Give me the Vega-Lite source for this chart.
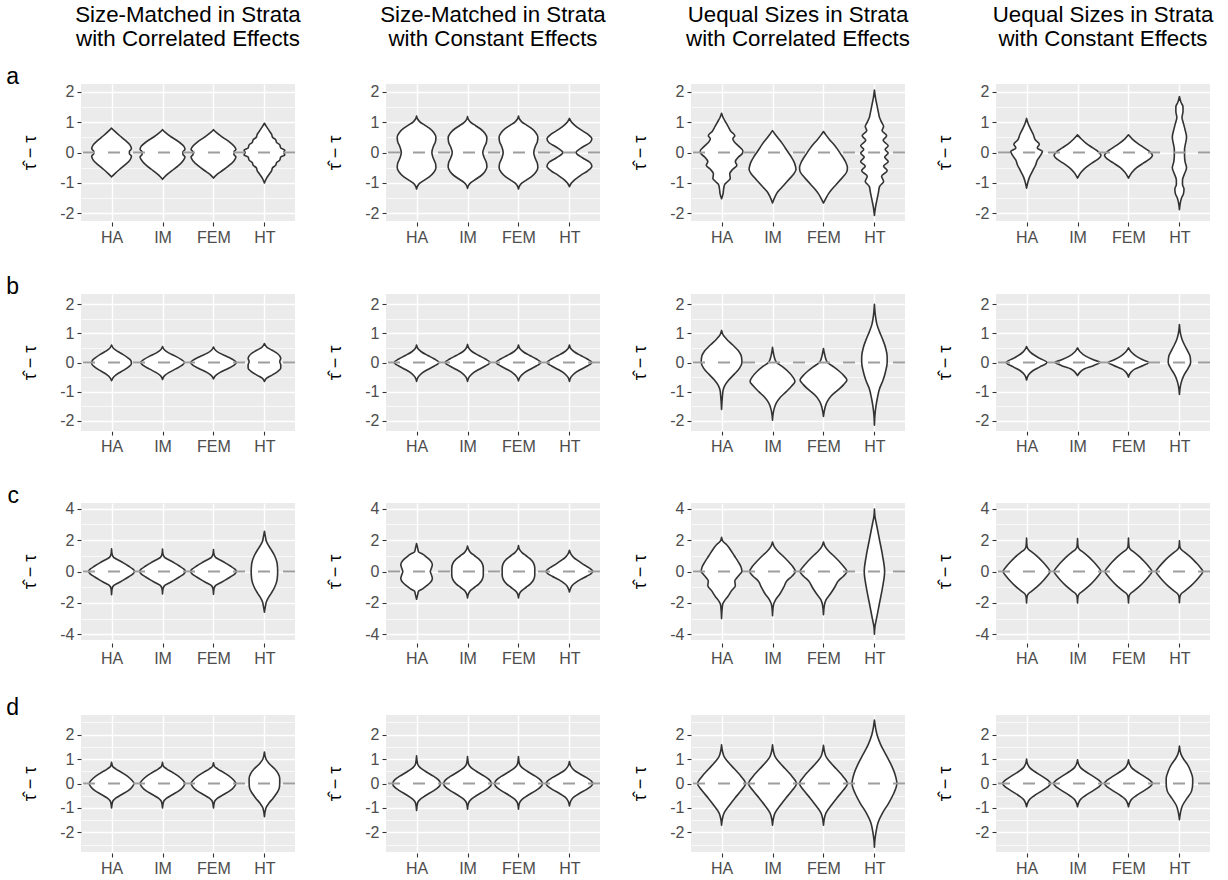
{
"$schema": "https://vega.github.io/schema/vega-lite/v6.json",
"background": "white",
"padding": {"left": 6, "top": 4, "right": 5, "bottom": 5},
"spacing": 31,
"config": {
  "view": {"fill": "#EBEBEB", "stroke": null},
  "font": "Liberation Sans",
  "axis": {"domain": false, "grid": true, "gridColor": "white", "tickColor": "#333333", "tickSize": 4, "tickWidth": 1.1, "labelColor": "#4D4D4D", "labelFontSize": 16, "labelFont": "Liberation Sans", "labelPadding": 3, "labelOverlap": false, "titleFont": "Liberation Sans", "titleFontSize": 18, "titleFontWeight": "normal", "titleColor": "black"},
  "header": {"labelFont": "Liberation Sans", "labelColor": "black"}
},
"datasets": {"v": [
{"r":"a","c":1,"m":"HA","y":0.8,"w":0},{"r":"a","c":1,"m":"HA","y":0.7,"w":0.06},{"r":"a","c":1,"m":"HA","y":0.55,"w":0.16},{"r":"a","c":1,"m":"HA","y":0.4,"w":0.27},{"r":"a","c":1,"m":"HA","y":0.25,"w":0.36},{"r":"a","c":1,"m":"HA","y":0.12,"w":0.39},{"r":"a","c":1,"m":"HA","y":0.04,"w":0.35},{"r":"a","c":1,"m":"HA","y":-0.04,"w":0.35},{"r":"a","c":1,"m":"HA","y":-0.12,"w":0.39},{"r":"a","c":1,"m":"HA","y":-0.25,"w":0.36},{"r":"a","c":1,"m":"HA","y":-0.4,"w":0.27},{"r":"a","c":1,"m":"HA","y":-0.55,"w":0.16},{"r":"a","c":1,"m":"HA","y":-0.7,"w":0.06},{"r":"a","c":1,"m":"HA","y":-0.8,"w":0},
{"r":"a","c":1,"m":"IM","y":0.75,"w":0},{"r":"a","c":1,"m":"IM","y":0.65,"w":0.06},{"r":"a","c":1,"m":"IM","y":0.5,"w":0.18},{"r":"a","c":1,"m":"IM","y":0.35,"w":0.32},{"r":"a","c":1,"m":"IM","y":0.2,"w":0.42},{"r":"a","c":1,"m":"IM","y":0.1,"w":0.44},{"r":"a","c":1,"m":"IM","y":0.02,"w":0.4},{"r":"a","c":1,"m":"IM","y":-0.06,"w":0.4},{"r":"a","c":1,"m":"IM","y":-0.15,"w":0.44},{"r":"a","c":1,"m":"IM","y":-0.28,"w":0.4},{"r":"a","c":1,"m":"IM","y":-0.45,"w":0.3},{"r":"a","c":1,"m":"IM","y":-0.6,"w":0.18},{"r":"a","c":1,"m":"IM","y":-0.75,"w":0.07},{"r":"a","c":1,"m":"IM","y":-0.88,"w":0},
{"r":"a","c":1,"m":"FEM","y":0.75,"w":0},{"r":"a","c":1,"m":"FEM","y":0.65,"w":0.06},{"r":"a","c":1,"m":"FEM","y":0.5,"w":0.18},{"r":"a","c":1,"m":"FEM","y":0.35,"w":0.31},{"r":"a","c":1,"m":"FEM","y":0.2,"w":0.41},{"r":"a","c":1,"m":"FEM","y":0.1,"w":0.44},{"r":"a","c":1,"m":"FEM","y":0.02,"w":0.4},{"r":"a","c":1,"m":"FEM","y":-0.06,"w":0.4},{"r":"a","c":1,"m":"FEM","y":-0.15,"w":0.44},{"r":"a","c":1,"m":"FEM","y":-0.28,"w":0.4},{"r":"a","c":1,"m":"FEM","y":-0.45,"w":0.29},{"r":"a","c":1,"m":"FEM","y":-0.6,"w":0.17},{"r":"a","c":1,"m":"FEM","y":-0.72,"w":0.07},{"r":"a","c":1,"m":"FEM","y":-0.84,"w":0},
{"r":"a","c":1,"m":"HT","y":0.96,"w":0},{"r":"a","c":1,"m":"HT","y":0.85,"w":0.04},{"r":"a","c":1,"m":"HT","y":0.7,"w":0.1},{"r":"a","c":1,"m":"HT","y":0.6,"w":0.14},{"r":"a","c":1,"m":"HT","y":0.5,"w":0.16},{"r":"a","c":1,"m":"HT","y":0.42,"w":0.22},{"r":"a","c":1,"m":"HT","y":0.33,"w":0.24},{"r":"a","c":1,"m":"HT","y":0.25,"w":0.3},{"r":"a","c":1,"m":"HT","y":0.15,"w":0.32},{"r":"a","c":1,"m":"HT","y":0.08,"w":0.4},{"r":"a","c":1,"m":"HT","y":0,"w":0.38},{"r":"a","c":1,"m":"HT","y":-0.08,"w":0.4},{"r":"a","c":1,"m":"HT","y":-0.15,"w":0.32},{"r":"a","c":1,"m":"HT","y":-0.25,"w":0.3},{"r":"a","c":1,"m":"HT","y":-0.33,"w":0.24},{"r":"a","c":1,"m":"HT","y":-0.42,"w":0.22},{"r":"a","c":1,"m":"HT","y":-0.5,"w":0.16},{"r":"a","c":1,"m":"HT","y":-0.6,"w":0.14},{"r":"a","c":1,"m":"HT","y":-0.7,"w":0.1},{"r":"a","c":1,"m":"HT","y":-0.85,"w":0.04},{"r":"a","c":1,"m":"HT","y":-1.0,"w":0},

{"r":"a","c":2,"m":"HA","y":1.2,"w":0},{"r":"a","c":2,"m":"HA","y":1.1,"w":0.02},{"r":"a","c":2,"m":"HA","y":1.0,"w":0.07},{"r":"a","c":2,"m":"HA","y":0.9,"w":0.16},{"r":"a","c":2,"m":"HA","y":0.8,"w":0.25},{"r":"a","c":2,"m":"HA","y":0.65,"w":0.34},{"r":"a","c":2,"m":"HA","y":0.5,"w":0.38},{"r":"a","c":2,"m":"HA","y":0.35,"w":0.37},{"r":"a","c":2,"m":"HA","y":0.2,"w":0.33},{"r":"a","c":2,"m":"HA","y":0,"w":0.3},{"r":"a","c":2,"m":"HA","y":-0.2,"w":0.33},{"r":"a","c":2,"m":"HA","y":-0.35,"w":0.37},{"r":"a","c":2,"m":"HA","y":-0.5,"w":0.38},{"r":"a","c":2,"m":"HA","y":-0.65,"w":0.34},{"r":"a","c":2,"m":"HA","y":-0.8,"w":0.25},{"r":"a","c":2,"m":"HA","y":-0.9,"w":0.16},{"r":"a","c":2,"m":"HA","y":-1.0,"w":0.07},{"r":"a","c":2,"m":"HA","y":-1.1,"w":0.02},{"r":"a","c":2,"m":"HA","y":-1.2,"w":0},
{"r":"a","c":2,"m":"IM","y":1.18,"w":0},{"r":"a","c":2,"m":"IM","y":1.08,"w":0.02},{"r":"a","c":2,"m":"IM","y":0.98,"w":0.07},{"r":"a","c":2,"m":"IM","y":0.88,"w":0.16},{"r":"a","c":2,"m":"IM","y":0.78,"w":0.25},{"r":"a","c":2,"m":"IM","y":0.63,"w":0.34},{"r":"a","c":2,"m":"IM","y":0.48,"w":0.38},{"r":"a","c":2,"m":"IM","y":0.33,"w":0.37},{"r":"a","c":2,"m":"IM","y":0.18,"w":0.33},{"r":"a","c":2,"m":"IM","y":0,"w":0.3},{"r":"a","c":2,"m":"IM","y":-0.18,"w":0.33},{"r":"a","c":2,"m":"IM","y":-0.33,"w":0.37},{"r":"a","c":2,"m":"IM","y":-0.48,"w":0.38},{"r":"a","c":2,"m":"IM","y":-0.63,"w":0.34},{"r":"a","c":2,"m":"IM","y":-0.78,"w":0.25},{"r":"a","c":2,"m":"IM","y":-0.88,"w":0.16},{"r":"a","c":2,"m":"IM","y":-0.98,"w":0.07},{"r":"a","c":2,"m":"IM","y":-1.08,"w":0.02},{"r":"a","c":2,"m":"IM","y":-1.18,"w":0},
{"r":"a","c":2,"m":"FEM","y":1.2,"w":0},{"r":"a","c":2,"m":"FEM","y":1.1,"w":0.02},{"r":"a","c":2,"m":"FEM","y":1.0,"w":0.07},{"r":"a","c":2,"m":"FEM","y":0.9,"w":0.16},{"r":"a","c":2,"m":"FEM","y":0.8,"w":0.25},{"r":"a","c":2,"m":"FEM","y":0.65,"w":0.34},{"r":"a","c":2,"m":"FEM","y":0.5,"w":0.38},{"r":"a","c":2,"m":"FEM","y":0.35,"w":0.37},{"r":"a","c":2,"m":"FEM","y":0.2,"w":0.33},{"r":"a","c":2,"m":"FEM","y":0,"w":0.3},{"r":"a","c":2,"m":"FEM","y":-0.2,"w":0.33},{"r":"a","c":2,"m":"FEM","y":-0.35,"w":0.37},{"r":"a","c":2,"m":"FEM","y":-0.5,"w":0.38},{"r":"a","c":2,"m":"FEM","y":-0.65,"w":0.34},{"r":"a","c":2,"m":"FEM","y":-0.8,"w":0.25},{"r":"a","c":2,"m":"FEM","y":-0.9,"w":0.16},{"r":"a","c":2,"m":"FEM","y":-1.0,"w":0.07},{"r":"a","c":2,"m":"FEM","y":-1.1,"w":0.02},{"r":"a","c":2,"m":"FEM","y":-1.2,"w":0},
{"r":"a","c":2,"m":"HT","y":1.12,"w":0},{"r":"a","c":2,"m":"HT","y":1.0,"w":0.04},{"r":"a","c":2,"m":"HT","y":0.9,"w":0.1},{"r":"a","c":2,"m":"HT","y":0.75,"w":0.22},{"r":"a","c":2,"m":"HT","y":0.6,"w":0.36},{"r":"a","c":2,"m":"HT","y":0.45,"w":0.44},{"r":"a","c":2,"m":"HT","y":0.32,"w":0.4},{"r":"a","c":2,"m":"HT","y":0.18,"w":0.26},{"r":"a","c":2,"m":"HT","y":0,"w":0.13},{"r":"a","c":2,"m":"HT","y":-0.18,"w":0.26},{"r":"a","c":2,"m":"HT","y":-0.32,"w":0.4},{"r":"a","c":2,"m":"HT","y":-0.45,"w":0.44},{"r":"a","c":2,"m":"HT","y":-0.6,"w":0.36},{"r":"a","c":2,"m":"HT","y":-0.75,"w":0.22},{"r":"a","c":2,"m":"HT","y":-0.9,"w":0.1},{"r":"a","c":2,"m":"HT","y":-1.0,"w":0.04},{"r":"a","c":2,"m":"HT","y":-1.12,"w":0},

{"r":"a","c":3,"m":"HA","y":1.29,"w":0},{"r":"a","c":3,"m":"HA","y":1.15,"w":0.03},{"r":"a","c":3,"m":"HA","y":1.0,"w":0.08},{"r":"a","c":3,"m":"HA","y":0.85,"w":0.13},{"r":"a","c":3,"m":"HA","y":0.7,"w":0.18},{"r":"a","c":3,"m":"HA","y":0.55,"w":0.26},{"r":"a","c":3,"m":"HA","y":0.45,"w":0.22},{"r":"a","c":3,"m":"HA","y":0.35,"w":0.25},{"r":"a","c":3,"m":"HA","y":0.2,"w":0.34},{"r":"a","c":3,"m":"HA","y":0.05,"w":0.42},{"r":"a","c":3,"m":"HA","y":-0.05,"w":0.4},{"r":"a","c":3,"m":"HA","y":-0.15,"w":0.33},{"r":"a","c":3,"m":"HA","y":-0.3,"w":0.27},{"r":"a","c":3,"m":"HA","y":-0.42,"w":0.3},{"r":"a","c":3,"m":"HA","y":-0.55,"w":0.22},{"r":"a","c":3,"m":"HA","y":-0.7,"w":0.16},{"r":"a","c":3,"m":"HA","y":-0.85,"w":0.17},{"r":"a","c":3,"m":"HA","y":-0.95,"w":0.12},{"r":"a","c":3,"m":"HA","y":-1.05,"w":0.06},{"r":"a","c":3,"m":"HA","y":-1.2,"w":0.04},{"r":"a","c":3,"m":"HA","y":-1.35,"w":0.03},{"r":"a","c":3,"m":"HA","y":-1.52,"w":0},
{"r":"a","c":3,"m":"IM","y":0.72,"w":0},{"r":"a","c":3,"m":"IM","y":0.6,"w":0.05},{"r":"a","c":3,"m":"IM","y":0.45,"w":0.12},{"r":"a","c":3,"m":"IM","y":0.3,"w":0.19},{"r":"a","c":3,"m":"IM","y":0.15,"w":0.25},{"r":"a","c":3,"m":"IM","y":0,"w":0.31},{"r":"a","c":3,"m":"IM","y":-0.15,"w":0.37},{"r":"a","c":3,"m":"IM","y":-0.3,"w":0.42},{"r":"a","c":3,"m":"IM","y":-0.45,"w":0.45},{"r":"a","c":3,"m":"IM","y":-0.55,"w":0.46},{"r":"a","c":3,"m":"IM","y":-0.7,"w":0.42},{"r":"a","c":3,"m":"IM","y":-0.85,"w":0.34},{"r":"a","c":3,"m":"IM","y":-1.0,"w":0.26},{"r":"a","c":3,"m":"IM","y":-1.15,"w":0.18},{"r":"a","c":3,"m":"IM","y":-1.3,"w":0.1},{"r":"a","c":3,"m":"IM","y":-1.45,"w":0.05},{"r":"a","c":3,"m":"IM","y":-1.66,"w":0},
{"r":"a","c":3,"m":"FEM","y":0.69,"w":0},{"r":"a","c":3,"m":"FEM","y":0.57,"w":0.05},{"r":"a","c":3,"m":"FEM","y":0.42,"w":0.12},{"r":"a","c":3,"m":"FEM","y":0.27,"w":0.2},{"r":"a","c":3,"m":"FEM","y":0.12,"w":0.27},{"r":"a","c":3,"m":"FEM","y":-0.03,"w":0.33},{"r":"a","c":3,"m":"FEM","y":-0.18,"w":0.39},{"r":"a","c":3,"m":"FEM","y":-0.33,"w":0.44},{"r":"a","c":3,"m":"FEM","y":-0.5,"w":0.47},{"r":"a","c":3,"m":"FEM","y":-0.62,"w":0.46},{"r":"a","c":3,"m":"FEM","y":-0.75,"w":0.41},{"r":"a","c":3,"m":"FEM","y":-0.9,"w":0.33},{"r":"a","c":3,"m":"FEM","y":-1.05,"w":0.25},{"r":"a","c":3,"m":"FEM","y":-1.2,"w":0.17},{"r":"a","c":3,"m":"FEM","y":-1.35,"w":0.1},{"r":"a","c":3,"m":"FEM","y":-1.5,"w":0.05},{"r":"a","c":3,"m":"FEM","y":-1.66,"w":0},
{"r":"a","c":3,"m":"HT","y":2.05,"w":0},{"r":"a","c":3,"m":"HT","y":1.8,"w":0.02},{"r":"a","c":3,"m":"HT","y":1.55,"w":0.05},{"r":"a","c":3,"m":"HT","y":1.3,"w":0.08},{"r":"a","c":3,"m":"HT","y":1.15,"w":0.1},{"r":"a","c":3,"m":"HT","y":1.0,"w":0.14},{"r":"a","c":3,"m":"HT","y":0.85,"w":0.18},{"r":"a","c":3,"m":"HT","y":0.72,"w":0.15},{"r":"a","c":3,"m":"HT","y":0.55,"w":0.24},{"r":"a","c":3,"m":"HT","y":0.4,"w":0.17},{"r":"a","c":3,"m":"HT","y":0.22,"w":0.27},{"r":"a","c":3,"m":"HT","y":0.1,"w":0.21},{"r":"a","c":3,"m":"HT","y":-0.02,"w":0.27},{"r":"a","c":3,"m":"HT","y":-0.15,"w":0.2},{"r":"a","c":3,"m":"HT","y":-0.3,"w":0.27},{"r":"a","c":3,"m":"HT","y":-0.45,"w":0.18},{"r":"a","c":3,"m":"HT","y":-0.6,"w":0.25},{"r":"a","c":3,"m":"HT","y":-0.78,"w":0.14},{"r":"a","c":3,"m":"HT","y":-0.95,"w":0.18},{"r":"a","c":3,"m":"HT","y":-1.12,"w":0.1},{"r":"a","c":3,"m":"HT","y":-1.3,"w":0.08},{"r":"a","c":3,"m":"HT","y":-1.55,"w":0.05},{"r":"a","c":3,"m":"HT","y":-1.8,"w":0.02},{"r":"a","c":3,"m":"HT","y":-2.07,"w":0},

{"r":"a","c":4,"m":"HA","y":1.12,"w":0},{"r":"a","c":4,"m":"HA","y":0.95,"w":0.03},{"r":"a","c":4,"m":"HA","y":0.8,"w":0.07},{"r":"a","c":4,"m":"HA","y":0.6,"w":0.13},{"r":"a","c":4,"m":"HA","y":0.42,"w":0.17},{"r":"a","c":4,"m":"HA","y":0.27,"w":0.25},{"r":"a","c":4,"m":"HA","y":0.15,"w":0.21},{"r":"a","c":4,"m":"HA","y":0.03,"w":0.31},{"r":"a","c":4,"m":"HA","y":-0.08,"w":0.28},{"r":"a","c":4,"m":"HA","y":-0.25,"w":0.21},{"r":"a","c":4,"m":"HA","y":-0.4,"w":0.18},{"r":"a","c":4,"m":"HA","y":-0.6,"w":0.12},{"r":"a","c":4,"m":"HA","y":-0.8,"w":0.06},{"r":"a","c":4,"m":"HA","y":-0.95,"w":0.03},{"r":"a","c":4,"m":"HA","y":-1.17,"w":0},
{"r":"a","c":4,"m":"IM","y":0.58,"w":0},{"r":"a","c":4,"m":"IM","y":0.45,"w":0.07},{"r":"a","c":4,"m":"IM","y":0.3,"w":0.17},{"r":"a","c":4,"m":"IM","y":0.15,"w":0.3},{"r":"a","c":4,"m":"IM","y":0.02,"w":0.41},{"r":"a","c":4,"m":"IM","y":-0.1,"w":0.46},{"r":"a","c":4,"m":"IM","y":-0.22,"w":0.4},{"r":"a","c":4,"m":"IM","y":-0.35,"w":0.28},{"r":"a","c":4,"m":"IM","y":-0.5,"w":0.16},{"r":"a","c":4,"m":"IM","y":-0.65,"w":0.07},{"r":"a","c":4,"m":"IM","y":-0.84,"w":0},
{"r":"a","c":4,"m":"FEM","y":0.58,"w":0},{"r":"a","c":4,"m":"FEM","y":0.45,"w":0.07},{"r":"a","c":4,"m":"FEM","y":0.3,"w":0.18},{"r":"a","c":4,"m":"FEM","y":0.15,"w":0.31},{"r":"a","c":4,"m":"FEM","y":0.02,"w":0.42},{"r":"a","c":4,"m":"FEM","y":-0.1,"w":0.47},{"r":"a","c":4,"m":"FEM","y":-0.22,"w":0.41},{"r":"a","c":4,"m":"FEM","y":-0.35,"w":0.29},{"r":"a","c":4,"m":"FEM","y":-0.5,"w":0.16},{"r":"a","c":4,"m":"FEM","y":-0.65,"w":0.07},{"r":"a","c":4,"m":"FEM","y":-0.84,"w":0},
{"r":"a","c":4,"m":"HT","y":1.84,"w":0},{"r":"a","c":4,"m":"HT","y":1.65,"w":0.03},{"r":"a","c":4,"m":"HT","y":1.5,"w":0.07},{"r":"a","c":4,"m":"HT","y":1.35,"w":0.07},{"r":"a","c":4,"m":"HT","y":1.15,"w":0.05},{"r":"a","c":4,"m":"HT","y":0.95,"w":0.08},{"r":"a","c":4,"m":"HT","y":0.75,"w":0.11},{"r":"a","c":4,"m":"HT","y":0.5,"w":0.14},{"r":"a","c":4,"m":"HT","y":0.3,"w":0.12},{"r":"a","c":4,"m":"HT","y":0.1,"w":0.1},{"r":"a","c":4,"m":"HT","y":-0.1,"w":0.1},{"r":"a","c":4,"m":"HT","y":-0.3,"w":0.11},{"r":"a","c":4,"m":"HT","y":-0.5,"w":0.14},{"r":"a","c":4,"m":"HT","y":-0.7,"w":0.1},{"r":"a","c":4,"m":"HT","y":-0.9,"w":0.06},{"r":"a","c":4,"m":"HT","y":-1.05,"w":0.06},{"r":"a","c":4,"m":"HT","y":-1.2,"w":0.09},{"r":"a","c":4,"m":"HT","y":-1.35,"w":0.08},{"r":"a","c":4,"m":"HT","y":-1.5,"w":0.04},{"r":"a","c":4,"m":"HT","y":-1.88,"w":0},

{"r":"b","c":1,"m":"HA","y":0.6,"w":0},{"r":"b","c":1,"m":"HA","y":0.48,"w":0.04},{"r":"b","c":1,"m":"HA","y":0.38,"w":0.12},{"r":"b","c":1,"m":"HA","y":0.28,"w":0.22},{"r":"b","c":1,"m":"HA","y":0.16,"w":0.32},{"r":"b","c":1,"m":"HA","y":0.06,"w":0.38},{"r":"b","c":1,"m":"HA","y":-0.04,"w":0.39},{"r":"b","c":1,"m":"HA","y":-0.14,"w":0.34},{"r":"b","c":1,"m":"HA","y":-0.26,"w":0.24},{"r":"b","c":1,"m":"HA","y":-0.36,"w":0.14},{"r":"b","c":1,"m":"HA","y":-0.48,"w":0.05},{"r":"b","c":1,"m":"HA","y":-0.62,"w":0},
{"r":"b","c":1,"m":"IM","y":0.55,"w":0},{"r":"b","c":1,"m":"IM","y":0.43,"w":0.04},{"r":"b","c":1,"m":"IM","y":0.33,"w":0.12},{"r":"b","c":1,"m":"IM","y":0.22,"w":0.25},{"r":"b","c":1,"m":"IM","y":0.1,"w":0.37},{"r":"b","c":1,"m":"IM","y":0,"w":0.43},{"r":"b","c":1,"m":"IM","y":-0.1,"w":0.38},{"r":"b","c":1,"m":"IM","y":-0.22,"w":0.26},{"r":"b","c":1,"m":"IM","y":-0.34,"w":0.13},{"r":"b","c":1,"m":"IM","y":-0.45,"w":0.04},{"r":"b","c":1,"m":"IM","y":-0.58,"w":0},
{"r":"b","c":1,"m":"FEM","y":0.53,"w":0},{"r":"b","c":1,"m":"FEM","y":0.42,"w":0.04},{"r":"b","c":1,"m":"FEM","y":0.32,"w":0.12},{"r":"b","c":1,"m":"FEM","y":0.2,"w":0.27},{"r":"b","c":1,"m":"FEM","y":0.08,"w":0.4},{"r":"b","c":1,"m":"FEM","y":0,"w":0.45},{"r":"b","c":1,"m":"FEM","y":-0.1,"w":0.4},{"r":"b","c":1,"m":"FEM","y":-0.22,"w":0.27},{"r":"b","c":1,"m":"FEM","y":-0.34,"w":0.13},{"r":"b","c":1,"m":"FEM","y":-0.45,"w":0.04},{"r":"b","c":1,"m":"FEM","y":-0.56,"w":0},
{"r":"b","c":1,"m":"HT","y":0.65,"w":0},{"r":"b","c":1,"m":"HT","y":0.52,"w":0.05},{"r":"b","c":1,"m":"HT","y":0.42,"w":0.15},{"r":"b","c":1,"m":"HT","y":0.3,"w":0.26},{"r":"b","c":1,"m":"HT","y":0.15,"w":0.32},{"r":"b","c":1,"m":"HT","y":0.03,"w":0.3},{"r":"b","c":1,"m":"HT","y":-0.08,"w":0.32},{"r":"b","c":1,"m":"HT","y":-0.2,"w":0.32},{"r":"b","c":1,"m":"HT","y":-0.32,"w":0.25},{"r":"b","c":1,"m":"HT","y":-0.44,"w":0.14},{"r":"b","c":1,"m":"HT","y":-0.53,"w":0.05},{"r":"b","c":1,"m":"HT","y":-0.65,"w":0},

{"r":"b","c":2,"m":"HA","y":0.6,"w":0},{"r":"b","c":2,"m":"HA","y":0.47,"w":0.03},{"r":"b","c":2,"m":"HA","y":0.36,"w":0.1},{"r":"b","c":2,"m":"HA","y":0.24,"w":0.22},{"r":"b","c":2,"m":"HA","y":0.12,"w":0.35},{"r":"b","c":2,"m":"HA","y":0,"w":0.44},{"r":"b","c":2,"m":"HA","y":-0.12,"w":0.35},{"r":"b","c":2,"m":"HA","y":-0.24,"w":0.22},{"r":"b","c":2,"m":"HA","y":-0.37,"w":0.1},{"r":"b","c":2,"m":"HA","y":-0.5,"w":0.03},{"r":"b","c":2,"m":"HA","y":-0.65,"w":0},
{"r":"b","c":2,"m":"IM","y":0.62,"w":0},{"r":"b","c":2,"m":"IM","y":0.48,"w":0.03},{"r":"b","c":2,"m":"IM","y":0.36,"w":0.1},{"r":"b","c":2,"m":"IM","y":0.24,"w":0.22},{"r":"b","c":2,"m":"IM","y":0.12,"w":0.35},{"r":"b","c":2,"m":"IM","y":0,"w":0.44},{"r":"b","c":2,"m":"IM","y":-0.12,"w":0.35},{"r":"b","c":2,"m":"IM","y":-0.24,"w":0.22},{"r":"b","c":2,"m":"IM","y":-0.37,"w":0.1},{"r":"b","c":2,"m":"IM","y":-0.5,"w":0.03},{"r":"b","c":2,"m":"IM","y":-0.65,"w":0},
{"r":"b","c":2,"m":"FEM","y":0.6,"w":0},{"r":"b","c":2,"m":"FEM","y":0.47,"w":0.03},{"r":"b","c":2,"m":"FEM","y":0.36,"w":0.1},{"r":"b","c":2,"m":"FEM","y":0.24,"w":0.22},{"r":"b","c":2,"m":"FEM","y":0.12,"w":0.35},{"r":"b","c":2,"m":"FEM","y":0,"w":0.44},{"r":"b","c":2,"m":"FEM","y":-0.12,"w":0.35},{"r":"b","c":2,"m":"FEM","y":-0.24,"w":0.22},{"r":"b","c":2,"m":"FEM","y":-0.37,"w":0.1},{"r":"b","c":2,"m":"FEM","y":-0.5,"w":0.03},{"r":"b","c":2,"m":"FEM","y":-0.63,"w":0},
{"r":"b","c":2,"m":"HT","y":0.6,"w":0},{"r":"b","c":2,"m":"HT","y":0.47,"w":0.03},{"r":"b","c":2,"m":"HT","y":0.36,"w":0.1},{"r":"b","c":2,"m":"HT","y":0.24,"w":0.22},{"r":"b","c":2,"m":"HT","y":0.12,"w":0.35},{"r":"b","c":2,"m":"HT","y":0,"w":0.44},{"r":"b","c":2,"m":"HT","y":-0.12,"w":0.35},{"r":"b","c":2,"m":"HT","y":-0.24,"w":0.22},{"r":"b","c":2,"m":"HT","y":-0.37,"w":0.1},{"r":"b","c":2,"m":"HT","y":-0.5,"w":0.03},{"r":"b","c":2,"m":"HT","y":-0.65,"w":0},

{"r":"b","c":3,"m":"HA","y":1.1,"w":0},{"r":"b","c":3,"m":"HA","y":0.95,"w":0.03},{"r":"b","c":3,"m":"HA","y":0.8,"w":0.1},{"r":"b","c":3,"m":"HA","y":0.6,"w":0.22},{"r":"b","c":3,"m":"HA","y":0.4,"w":0.33},{"r":"b","c":3,"m":"HA","y":0.2,"w":0.39},{"r":"b","c":3,"m":"HA","y":0,"w":0.4},{"r":"b","c":3,"m":"HA","y":-0.2,"w":0.35},{"r":"b","c":3,"m":"HA","y":-0.4,"w":0.25},{"r":"b","c":3,"m":"HA","y":-0.6,"w":0.14},{"r":"b","c":3,"m":"HA","y":-0.8,"w":0.06},{"r":"b","c":3,"m":"HA","y":-0.95,"w":0.03},{"r":"b","c":3,"m":"HA","y":-1.2,"w":0.015},{"r":"b","c":3,"m":"HA","y":-1.61,"w":0},
{"r":"b","c":3,"m":"IM","y":0.52,"w":0},{"r":"b","c":3,"m":"IM","y":0.3,"w":0.02},{"r":"b","c":3,"m":"IM","y":0.1,"w":0.05},{"r":"b","c":3,"m":"IM","y":0,"w":0.08},{"r":"b","c":3,"m":"IM","y":-0.15,"w":0.2},{"r":"b","c":3,"m":"IM","y":-0.3,"w":0.3},{"r":"b","c":3,"m":"IM","y":-0.5,"w":0.4},{"r":"b","c":3,"m":"IM","y":-0.65,"w":0.44},{"r":"b","c":3,"m":"IM","y":-0.8,"w":0.38},{"r":"b","c":3,"m":"IM","y":-1.0,"w":0.27},{"r":"b","c":3,"m":"IM","y":-1.2,"w":0.15},{"r":"b","c":3,"m":"IM","y":-1.4,"w":0.07},{"r":"b","c":3,"m":"IM","y":-1.6,"w":0.03},{"r":"b","c":3,"m":"IM","y":-1.98,"w":0},
{"r":"b","c":3,"m":"FEM","y":0.48,"w":0},{"r":"b","c":3,"m":"FEM","y":0.3,"w":0.02},{"r":"b","c":3,"m":"FEM","y":0.1,"w":0.05},{"r":"b","c":3,"m":"FEM","y":0,"w":0.08},{"r":"b","c":3,"m":"FEM","y":-0.15,"w":0.2},{"r":"b","c":3,"m":"FEM","y":-0.3,"w":0.31},{"r":"b","c":3,"m":"FEM","y":-0.45,"w":0.4},{"r":"b","c":3,"m":"FEM","y":-0.6,"w":0.46},{"r":"b","c":3,"m":"FEM","y":-0.75,"w":0.4},{"r":"b","c":3,"m":"FEM","y":-0.95,"w":0.28},{"r":"b","c":3,"m":"FEM","y":-1.15,"w":0.15},{"r":"b","c":3,"m":"FEM","y":-1.35,"w":0.07},{"r":"b","c":3,"m":"FEM","y":-1.55,"w":0.03},{"r":"b","c":3,"m":"FEM","y":-1.85,"w":0},
{"r":"b","c":3,"m":"HT","y":2.0,"w":0},{"r":"b","c":3,"m":"HT","y":1.6,"w":0.02},{"r":"b","c":3,"m":"HT","y":1.3,"w":0.05},{"r":"b","c":3,"m":"HT","y":1.1,"w":0.09},{"r":"b","c":3,"m":"HT","y":0.8,"w":0.16},{"r":"b","c":3,"m":"HT","y":0.5,"w":0.22},{"r":"b","c":3,"m":"HT","y":0.2,"w":0.25},{"r":"b","c":3,"m":"HT","y":0,"w":0.25},{"r":"b","c":3,"m":"HT","y":-0.3,"w":0.22},{"r":"b","c":3,"m":"HT","y":-0.6,"w":0.17},{"r":"b","c":3,"m":"HT","y":-0.9,"w":0.1},{"r":"b","c":3,"m":"HT","y":-1.2,"w":0.06},{"r":"b","c":3,"m":"HT","y":-1.5,"w":0.03},{"r":"b","c":3,"m":"HT","y":-1.8,"w":0.01},{"r":"b","c":3,"m":"HT","y":-2.15,"w":0},

{"r":"b","c":4,"m":"HA","y":0.55,"w":0},{"r":"b","c":4,"m":"HA","y":0.42,"w":0.04},{"r":"b","c":4,"m":"HA","y":0.3,"w":0.11},{"r":"b","c":4,"m":"HA","y":0.15,"w":0.25},{"r":"b","c":4,"m":"HA","y":0,"w":0.4},{"r":"b","c":4,"m":"HA","y":-0.15,"w":0.26},{"r":"b","c":4,"m":"HA","y":-0.3,"w":0.11},{"r":"b","c":4,"m":"HA","y":-0.42,"w":0.04},{"r":"b","c":4,"m":"HA","y":-0.6,"w":0},
{"r":"b","c":4,"m":"IM","y":0.5,"w":0},{"r":"b","c":4,"m":"IM","y":0.37,"w":0.05},{"r":"b","c":4,"m":"IM","y":0.22,"w":0.16},{"r":"b","c":4,"m":"IM","y":0.1,"w":0.3},{"r":"b","c":4,"m":"IM","y":0,"w":0.44},{"r":"b","c":4,"m":"IM","y":-0.1,"w":0.32},{"r":"b","c":4,"m":"IM","y":-0.22,"w":0.13},{"r":"b","c":4,"m":"IM","y":-0.33,"w":0.05},{"r":"b","c":4,"m":"IM","y":-0.45,"w":0},
{"r":"b","c":4,"m":"FEM","y":0.5,"w":0},{"r":"b","c":4,"m":"FEM","y":0.37,"w":0.05},{"r":"b","c":4,"m":"FEM","y":0.22,"w":0.15},{"r":"b","c":4,"m":"FEM","y":0.1,"w":0.27},{"r":"b","c":4,"m":"FEM","y":0,"w":0.4},{"r":"b","c":4,"m":"FEM","y":-0.1,"w":0.29},{"r":"b","c":4,"m":"FEM","y":-0.22,"w":0.13},{"r":"b","c":4,"m":"FEM","y":-0.33,"w":0.05},{"r":"b","c":4,"m":"FEM","y":-0.5,"w":0},
{"r":"b","c":4,"m":"HT","y":1.3,"w":0},{"r":"b","c":4,"m":"HT","y":1.0,"w":0.02},{"r":"b","c":4,"m":"HT","y":0.8,"w":0.05},{"r":"b","c":4,"m":"HT","y":0.6,"w":0.1},{"r":"b","c":4,"m":"HT","y":0.4,"w":0.16},{"r":"b","c":4,"m":"HT","y":0.2,"w":0.21},{"r":"b","c":4,"m":"HT","y":0,"w":0.22},{"r":"b","c":4,"m":"HT","y":-0.2,"w":0.17},{"r":"b","c":4,"m":"HT","y":-0.4,"w":0.1},{"r":"b","c":4,"m":"HT","y":-0.6,"w":0.05},{"r":"b","c":4,"m":"HT","y":-0.8,"w":0.02},{"r":"b","c":4,"m":"HT","y":-1.1,"w":0},

{"r":"c","c":1,"m":"HA","y":1.44,"w":0},{"r":"c","c":1,"m":"HA","y":1.1,"w":0.01},{"r":"c","c":1,"m":"HA","y":0.9,"w":0.04},{"r":"c","c":1,"m":"HA","y":0.75,"w":0.12},{"r":"c","c":1,"m":"HA","y":0.55,"w":0.23},{"r":"c","c":1,"m":"HA","y":0.35,"w":0.33},{"r":"c","c":1,"m":"HA","y":0.15,"w":0.42},{"r":"c","c":1,"m":"HA","y":0,"w":0.45},{"r":"c","c":1,"m":"HA","y":-0.15,"w":0.42},{"r":"c","c":1,"m":"HA","y":-0.35,"w":0.33},{"r":"c","c":1,"m":"HA","y":-0.55,"w":0.23},{"r":"c","c":1,"m":"HA","y":-0.75,"w":0.12},{"r":"c","c":1,"m":"HA","y":-0.9,"w":0.04},{"r":"c","c":1,"m":"HA","y":-1.1,"w":0.01},{"r":"c","c":1,"m":"HA","y":-1.48,"w":0},
{"r":"c","c":1,"m":"IM","y":1.42,"w":0},{"r":"c","c":1,"m":"IM","y":1.1,"w":0.01},{"r":"c","c":1,"m":"IM","y":0.9,"w":0.04},{"r":"c","c":1,"m":"IM","y":0.75,"w":0.12},{"r":"c","c":1,"m":"IM","y":0.55,"w":0.23},{"r":"c","c":1,"m":"IM","y":0.35,"w":0.33},{"r":"c","c":1,"m":"IM","y":0.15,"w":0.42},{"r":"c","c":1,"m":"IM","y":0,"w":0.45},{"r":"c","c":1,"m":"IM","y":-0.15,"w":0.42},{"r":"c","c":1,"m":"IM","y":-0.35,"w":0.33},{"r":"c","c":1,"m":"IM","y":-0.55,"w":0.23},{"r":"c","c":1,"m":"IM","y":-0.75,"w":0.12},{"r":"c","c":1,"m":"IM","y":-0.9,"w":0.04},{"r":"c","c":1,"m":"IM","y":-1.1,"w":0.01},{"r":"c","c":1,"m":"IM","y":-1.42,"w":0},
{"r":"c","c":1,"m":"FEM","y":1.4,"w":0},{"r":"c","c":1,"m":"FEM","y":1.1,"w":0.01},{"r":"c","c":1,"m":"FEM","y":0.9,"w":0.04},{"r":"c","c":1,"m":"FEM","y":0.75,"w":0.12},{"r":"c","c":1,"m":"FEM","y":0.55,"w":0.23},{"r":"c","c":1,"m":"FEM","y":0.35,"w":0.33},{"r":"c","c":1,"m":"FEM","y":0.15,"w":0.42},{"r":"c","c":1,"m":"FEM","y":0,"w":0.45},{"r":"c","c":1,"m":"FEM","y":-0.15,"w":0.42},{"r":"c","c":1,"m":"FEM","y":-0.35,"w":0.33},{"r":"c","c":1,"m":"FEM","y":-0.55,"w":0.23},{"r":"c","c":1,"m":"FEM","y":-0.75,"w":0.12},{"r":"c","c":1,"m":"FEM","y":-0.9,"w":0.04},{"r":"c","c":1,"m":"FEM","y":-1.1,"w":0.01},{"r":"c","c":1,"m":"FEM","y":-1.45,"w":0},
{"r":"c","c":1,"m":"HT","y":2.56,"w":0},{"r":"c","c":1,"m":"HT","y":2.2,"w":0.02},{"r":"c","c":1,"m":"HT","y":1.9,"w":0.04},{"r":"c","c":1,"m":"HT","y":1.7,"w":0.07},{"r":"c","c":1,"m":"HT","y":1.4,"w":0.13},{"r":"c","c":1,"m":"HT","y":1.0,"w":0.2},{"r":"c","c":1,"m":"HT","y":0.5,"w":0.25},{"r":"c","c":1,"m":"HT","y":0,"w":0.26},{"r":"c","c":1,"m":"HT","y":-0.5,"w":0.25},{"r":"c","c":1,"m":"HT","y":-1.0,"w":0.2},{"r":"c","c":1,"m":"HT","y":-1.4,"w":0.13},{"r":"c","c":1,"m":"HT","y":-1.7,"w":0.07},{"r":"c","c":1,"m":"HT","y":-1.9,"w":0.04},{"r":"c","c":1,"m":"HT","y":-2.2,"w":0.02},{"r":"c","c":1,"m":"HT","y":-2.58,"w":0},

{"r":"c","c":2,"m":"HA","y":1.78,"w":0},{"r":"c","c":2,"m":"HA","y":1.5,"w":0.02},{"r":"c","c":2,"m":"HA","y":1.25,"w":0.04},{"r":"c","c":2,"m":"HA","y":1.1,"w":0.12},{"r":"c","c":2,"m":"HA","y":0.9,"w":0.2},{"r":"c","c":2,"m":"HA","y":0.7,"w":0.27},{"r":"c","c":2,"m":"HA","y":0.45,"w":0.31},{"r":"c","c":2,"m":"HA","y":0.2,"w":0.29},{"r":"c","c":2,"m":"HA","y":0,"w":0.27},{"r":"c","c":2,"m":"HA","y":-0.2,"w":0.29},{"r":"c","c":2,"m":"HA","y":-0.45,"w":0.31},{"r":"c","c":2,"m":"HA","y":-0.7,"w":0.27},{"r":"c","c":2,"m":"HA","y":-0.9,"w":0.2},{"r":"c","c":2,"m":"HA","y":-1.1,"w":0.12},{"r":"c","c":2,"m":"HA","y":-1.25,"w":0.04},{"r":"c","c":2,"m":"HA","y":-1.5,"w":0.02},{"r":"c","c":2,"m":"HA","y":-1.76,"w":0},
{"r":"c","c":2,"m":"IM","y":1.62,"w":0},{"r":"c","c":2,"m":"IM","y":1.4,"w":0.02},{"r":"c","c":2,"m":"IM","y":1.2,"w":0.06},{"r":"c","c":2,"m":"IM","y":1.0,"w":0.14},{"r":"c","c":2,"m":"IM","y":0.8,"w":0.22},{"r":"c","c":2,"m":"IM","y":0.5,"w":0.29},{"r":"c","c":2,"m":"IM","y":0.2,"w":0.31},{"r":"c","c":2,"m":"IM","y":0,"w":0.31},{"r":"c","c":2,"m":"IM","y":-0.2,"w":0.31},{"r":"c","c":2,"m":"IM","y":-0.5,"w":0.29},{"r":"c","c":2,"m":"IM","y":-0.8,"w":0.22},{"r":"c","c":2,"m":"IM","y":-1.0,"w":0.14},{"r":"c","c":2,"m":"IM","y":-1.2,"w":0.06},{"r":"c","c":2,"m":"IM","y":-1.4,"w":0.02},{"r":"c","c":2,"m":"IM","y":-1.68,"w":0},
{"r":"c","c":2,"m":"FEM","y":1.65,"w":0},{"r":"c","c":2,"m":"FEM","y":1.4,"w":0.02},{"r":"c","c":2,"m":"FEM","y":1.2,"w":0.07},{"r":"c","c":2,"m":"FEM","y":1.0,"w":0.15},{"r":"c","c":2,"m":"FEM","y":0.8,"w":0.23},{"r":"c","c":2,"m":"FEM","y":0.5,"w":0.3},{"r":"c","c":2,"m":"FEM","y":0.2,"w":0.32},{"r":"c","c":2,"m":"FEM","y":0,"w":0.32},{"r":"c","c":2,"m":"FEM","y":-0.2,"w":0.32},{"r":"c","c":2,"m":"FEM","y":-0.5,"w":0.3},{"r":"c","c":2,"m":"FEM","y":-0.8,"w":0.23},{"r":"c","c":2,"m":"FEM","y":-1.0,"w":0.15},{"r":"c","c":2,"m":"FEM","y":-1.2,"w":0.07},{"r":"c","c":2,"m":"FEM","y":-1.4,"w":0.02},{"r":"c","c":2,"m":"FEM","y":-1.68,"w":0},
{"r":"c","c":2,"m":"HT","y":1.35,"w":0},{"r":"c","c":2,"m":"HT","y":1.1,"w":0.03},{"r":"c","c":2,"m":"HT","y":0.9,"w":0.08},{"r":"c","c":2,"m":"HT","y":0.7,"w":0.16},{"r":"c","c":2,"m":"HT","y":0.5,"w":0.25},{"r":"c","c":2,"m":"HT","y":0.3,"w":0.35},{"r":"c","c":2,"m":"HT","y":0.15,"w":0.42},{"r":"c","c":2,"m":"HT","y":0,"w":0.46},{"r":"c","c":2,"m":"HT","y":-0.15,"w":0.42},{"r":"c","c":2,"m":"HT","y":-0.3,"w":0.34},{"r":"c","c":2,"m":"HT","y":-0.5,"w":0.22},{"r":"c","c":2,"m":"HT","y":-0.7,"w":0.12},{"r":"c","c":2,"m":"HT","y":-0.9,"w":0.05},{"r":"c","c":2,"m":"HT","y":-1.1,"w":0.02},{"r":"c","c":2,"m":"HT","y":-1.3,"w":0},

{"r":"c","c":3,"m":"HA","y":2.17,"w":0},{"r":"c","c":3,"m":"HA","y":1.9,"w":0.03},{"r":"c","c":3,"m":"HA","y":1.7,"w":0.1},{"r":"c","c":3,"m":"HA","y":1.4,"w":0.17},{"r":"c","c":3,"m":"HA","y":1.0,"w":0.25},{"r":"c","c":3,"m":"HA","y":0.6,"w":0.33},{"r":"c","c":3,"m":"HA","y":0.3,"w":0.38},{"r":"c","c":3,"m":"HA","y":0,"w":0.4},{"r":"c","c":3,"m":"HA","y":-0.2,"w":0.35},{"r":"c","c":3,"m":"HA","y":-0.4,"w":0.3},{"r":"c","c":3,"m":"HA","y":-0.6,"w":0.26},{"r":"c","c":3,"m":"HA","y":-0.9,"w":0.27},{"r":"c","c":3,"m":"HA","y":-1.2,"w":0.2},{"r":"c","c":3,"m":"HA","y":-1.6,"w":0.12},{"r":"c","c":3,"m":"HA","y":-1.9,"w":0.05},{"r":"c","c":3,"m":"HA","y":-2.1,"w":0.02},{"r":"c","c":3,"m":"HA","y":-2.99,"w":0},
{"r":"c","c":3,"m":"IM","y":1.87,"w":0},{"r":"c","c":3,"m":"IM","y":1.6,"w":0.03},{"r":"c","c":3,"m":"IM","y":1.3,"w":0.1},{"r":"c","c":3,"m":"IM","y":1.0,"w":0.2},{"r":"c","c":3,"m":"IM","y":0.6,"w":0.32},{"r":"c","c":3,"m":"IM","y":0.3,"w":0.4},{"r":"c","c":3,"m":"IM","y":0,"w":0.45},{"r":"c","c":3,"m":"IM","y":-0.3,"w":0.38},{"r":"c","c":3,"m":"IM","y":-0.6,"w":0.28},{"r":"c","c":3,"m":"IM","y":-1.0,"w":0.22},{"r":"c","c":3,"m":"IM","y":-1.4,"w":0.15},{"r":"c","c":3,"m":"IM","y":-1.8,"w":0.06},{"r":"c","c":3,"m":"IM","y":-2.1,"w":0.02},{"r":"c","c":3,"m":"IM","y":-2.8,"w":0},
{"r":"c","c":3,"m":"FEM","y":1.87,"w":0},{"r":"c","c":3,"m":"FEM","y":1.6,"w":0.03},{"r":"c","c":3,"m":"FEM","y":1.3,"w":0.1},{"r":"c","c":3,"m":"FEM","y":1.0,"w":0.2},{"r":"c","c":3,"m":"FEM","y":0.6,"w":0.32},{"r":"c","c":3,"m":"FEM","y":0.3,"w":0.4},{"r":"c","c":3,"m":"FEM","y":0,"w":0.46},{"r":"c","c":3,"m":"FEM","y":-0.3,"w":0.39},{"r":"c","c":3,"m":"FEM","y":-0.6,"w":0.29},{"r":"c","c":3,"m":"FEM","y":-1.0,"w":0.22},{"r":"c","c":3,"m":"FEM","y":-1.4,"w":0.14},{"r":"c","c":3,"m":"FEM","y":-1.8,"w":0.05},{"r":"c","c":3,"m":"FEM","y":-2.1,"w":0.02},{"r":"c","c":3,"m":"FEM","y":-2.75,"w":0},
{"r":"c","c":3,"m":"HT","y":3.96,"w":0},{"r":"c","c":3,"m":"HT","y":3.5,"w":0.01},{"r":"c","c":3,"m":"HT","y":3.0,"w":0.04},{"r":"c","c":3,"m":"HT","y":2.0,"w":0.1},{"r":"c","c":3,"m":"HT","y":1.0,"w":0.16},{"r":"c","c":3,"m":"HT","y":0,"w":0.2},{"r":"c","c":3,"m":"HT","y":-1.0,"w":0.16},{"r":"c","c":3,"m":"HT","y":-2.0,"w":0.1},{"r":"c","c":3,"m":"HT","y":-3.0,"w":0.04},{"r":"c","c":3,"m":"HT","y":-3.5,"w":0.01},{"r":"c","c":3,"m":"HT","y":-3.98,"w":0},

{"r":"c","c":4,"m":"HA","y":2.12,"w":0},{"r":"c","c":4,"m":"HA","y":1.6,"w":0.01},{"r":"c","c":4,"m":"HA","y":1.4,"w":0.04},{"r":"c","c":4,"m":"HA","y":1.2,"w":0.12},{"r":"c","c":4,"m":"HA","y":0.9,"w":0.23},{"r":"c","c":4,"m":"HA","y":0.6,"w":0.32},{"r":"c","c":4,"m":"HA","y":0.3,"w":0.4},{"r":"c","c":4,"m":"HA","y":0,"w":0.46},{"r":"c","c":4,"m":"HA","y":-0.3,"w":0.4},{"r":"c","c":4,"m":"HA","y":-0.6,"w":0.32},{"r":"c","c":4,"m":"HA","y":-0.9,"w":0.23},{"r":"c","c":4,"m":"HA","y":-1.2,"w":0.12},{"r":"c","c":4,"m":"HA","y":-1.4,"w":0.04},{"r":"c","c":4,"m":"HA","y":-1.6,"w":0.01},{"r":"c","c":4,"m":"HA","y":-2.0,"w":0},
{"r":"c","c":4,"m":"IM","y":2.1,"w":0},{"r":"c","c":4,"m":"IM","y":1.6,"w":0.01},{"r":"c","c":4,"m":"IM","y":1.4,"w":0.04},{"r":"c","c":4,"m":"IM","y":1.2,"w":0.12},{"r":"c","c":4,"m":"IM","y":0.9,"w":0.23},{"r":"c","c":4,"m":"IM","y":0.6,"w":0.32},{"r":"c","c":4,"m":"IM","y":0.3,"w":0.4},{"r":"c","c":4,"m":"IM","y":0,"w":0.46},{"r":"c","c":4,"m":"IM","y":-0.3,"w":0.4},{"r":"c","c":4,"m":"IM","y":-0.6,"w":0.32},{"r":"c","c":4,"m":"IM","y":-0.9,"w":0.23},{"r":"c","c":4,"m":"IM","y":-1.2,"w":0.12},{"r":"c","c":4,"m":"IM","y":-1.4,"w":0.04},{"r":"c","c":4,"m":"IM","y":-1.6,"w":0.01},{"r":"c","c":4,"m":"IM","y":-2.0,"w":0},
{"r":"c","c":4,"m":"FEM","y":2.12,"w":0},{"r":"c","c":4,"m":"FEM","y":1.6,"w":0.01},{"r":"c","c":4,"m":"FEM","y":1.4,"w":0.04},{"r":"c","c":4,"m":"FEM","y":1.2,"w":0.12},{"r":"c","c":4,"m":"FEM","y":0.9,"w":0.23},{"r":"c","c":4,"m":"FEM","y":0.6,"w":0.32},{"r":"c","c":4,"m":"FEM","y":0.3,"w":0.4},{"r":"c","c":4,"m":"FEM","y":0,"w":0.46},{"r":"c","c":4,"m":"FEM","y":-0.3,"w":0.4},{"r":"c","c":4,"m":"FEM","y":-0.6,"w":0.32},{"r":"c","c":4,"m":"FEM","y":-0.9,"w":0.23},{"r":"c","c":4,"m":"FEM","y":-1.2,"w":0.12},{"r":"c","c":4,"m":"FEM","y":-1.4,"w":0.04},{"r":"c","c":4,"m":"FEM","y":-1.6,"w":0.01},{"r":"c","c":4,"m":"FEM","y":-2.0,"w":0},
{"r":"c","c":4,"m":"HT","y":1.95,"w":0},{"r":"c","c":4,"m":"HT","y":1.55,"w":0.01},{"r":"c","c":4,"m":"HT","y":1.35,"w":0.05},{"r":"c","c":4,"m":"HT","y":1.15,"w":0.13},{"r":"c","c":4,"m":"HT","y":0.85,"w":0.24},{"r":"c","c":4,"m":"HT","y":0.55,"w":0.33},{"r":"c","c":4,"m":"HT","y":0.25,"w":0.41},{"r":"c","c":4,"m":"HT","y":0,"w":0.46},{"r":"c","c":4,"m":"HT","y":-0.3,"w":0.4},{"r":"c","c":4,"m":"HT","y":-0.6,"w":0.32},{"r":"c","c":4,"m":"HT","y":-0.9,"w":0.23},{"r":"c","c":4,"m":"HT","y":-1.2,"w":0.12},{"r":"c","c":4,"m":"HT","y":-1.4,"w":0.04},{"r":"c","c":4,"m":"HT","y":-1.6,"w":0.01},{"r":"c","c":4,"m":"HT","y":-1.98,"w":0},

{"r":"d","c":1,"m":"HA","y":0.87,"w":0},{"r":"d","c":1,"m":"HA","y":0.7,"w":0.02},{"r":"d","c":1,"m":"HA","y":0.6,"w":0.08},{"r":"d","c":1,"m":"HA","y":0.45,"w":0.2},{"r":"d","c":1,"m":"HA","y":0.3,"w":0.31},{"r":"d","c":1,"m":"HA","y":0.15,"w":0.39},{"r":"d","c":1,"m":"HA","y":0,"w":0.44},{"r":"d","c":1,"m":"HA","y":-0.15,"w":0.4},{"r":"d","c":1,"m":"HA","y":-0.3,"w":0.32},{"r":"d","c":1,"m":"HA","y":-0.45,"w":0.2},{"r":"d","c":1,"m":"HA","y":-0.6,"w":0.08},{"r":"d","c":1,"m":"HA","y":-0.75,"w":0.02},{"r":"d","c":1,"m":"HA","y":-1.0,"w":0},
{"r":"d","c":1,"m":"IM","y":0.87,"w":0},{"r":"d","c":1,"m":"IM","y":0.7,"w":0.02},{"r":"d","c":1,"m":"IM","y":0.6,"w":0.08},{"r":"d","c":1,"m":"IM","y":0.45,"w":0.2},{"r":"d","c":1,"m":"IM","y":0.3,"w":0.31},{"r":"d","c":1,"m":"IM","y":0.15,"w":0.39},{"r":"d","c":1,"m":"IM","y":0,"w":0.44},{"r":"d","c":1,"m":"IM","y":-0.15,"w":0.4},{"r":"d","c":1,"m":"IM","y":-0.3,"w":0.32},{"r":"d","c":1,"m":"IM","y":-0.45,"w":0.2},{"r":"d","c":1,"m":"IM","y":-0.6,"w":0.08},{"r":"d","c":1,"m":"IM","y":-0.75,"w":0.02},{"r":"d","c":1,"m":"IM","y":-1.0,"w":0},
{"r":"d","c":1,"m":"FEM","y":0.85,"w":0},{"r":"d","c":1,"m":"FEM","y":0.7,"w":0.02},{"r":"d","c":1,"m":"FEM","y":0.6,"w":0.08},{"r":"d","c":1,"m":"FEM","y":0.45,"w":0.2},{"r":"d","c":1,"m":"FEM","y":0.3,"w":0.31},{"r":"d","c":1,"m":"FEM","y":0.15,"w":0.39},{"r":"d","c":1,"m":"FEM","y":0,"w":0.44},{"r":"d","c":1,"m":"FEM","y":-0.15,"w":0.4},{"r":"d","c":1,"m":"FEM","y":-0.3,"w":0.32},{"r":"d","c":1,"m":"FEM","y":-0.45,"w":0.2},{"r":"d","c":1,"m":"FEM","y":-0.6,"w":0.08},{"r":"d","c":1,"m":"FEM","y":-0.75,"w":0.02},{"r":"d","c":1,"m":"FEM","y":-1.0,"w":0},
{"r":"d","c":1,"m":"HT","y":1.29,"w":0},{"r":"d","c":1,"m":"HT","y":1.0,"w":0.03},{"r":"d","c":1,"m":"HT","y":0.8,"w":0.1},{"r":"d","c":1,"m":"HT","y":0.6,"w":0.2},{"r":"d","c":1,"m":"HT","y":0.4,"w":0.27},{"r":"d","c":1,"m":"HT","y":0.2,"w":0.3},{"r":"d","c":1,"m":"HT","y":0,"w":0.3},{"r":"d","c":1,"m":"HT","y":-0.2,"w":0.29},{"r":"d","c":1,"m":"HT","y":-0.4,"w":0.24},{"r":"d","c":1,"m":"HT","y":-0.6,"w":0.17},{"r":"d","c":1,"m":"HT","y":-0.8,"w":0.09},{"r":"d","c":1,"m":"HT","y":-1.0,"w":0.03},{"r":"d","c":1,"m":"HT","y":-1.36,"w":0},

{"r":"d","c":2,"m":"HA","y":1.13,"w":0},{"r":"d","c":2,"m":"HA","y":0.8,"w":0.02},{"r":"d","c":2,"m":"HA","y":0.65,"w":0.07},{"r":"d","c":2,"m":"HA","y":0.5,"w":0.17},{"r":"d","c":2,"m":"HA","y":0.3,"w":0.33},{"r":"d","c":2,"m":"HA","y":0.15,"w":0.43},{"r":"d","c":2,"m":"HA","y":0,"w":0.47},{"r":"d","c":2,"m":"HA","y":-0.15,"w":0.43},{"r":"d","c":2,"m":"HA","y":-0.3,"w":0.33},{"r":"d","c":2,"m":"HA","y":-0.5,"w":0.17},{"r":"d","c":2,"m":"HA","y":-0.65,"w":0.07},{"r":"d","c":2,"m":"HA","y":-0.8,"w":0.02},{"r":"d","c":2,"m":"HA","y":-1.1,"w":0},
{"r":"d","c":2,"m":"IM","y":1.1,"w":0},{"r":"d","c":2,"m":"IM","y":0.8,"w":0.02},{"r":"d","c":2,"m":"IM","y":0.65,"w":0.07},{"r":"d","c":2,"m":"IM","y":0.5,"w":0.17},{"r":"d","c":2,"m":"IM","y":0.3,"w":0.33},{"r":"d","c":2,"m":"IM","y":0.15,"w":0.43},{"r":"d","c":2,"m":"IM","y":0,"w":0.47},{"r":"d","c":2,"m":"IM","y":-0.15,"w":0.43},{"r":"d","c":2,"m":"IM","y":-0.3,"w":0.33},{"r":"d","c":2,"m":"IM","y":-0.5,"w":0.17},{"r":"d","c":2,"m":"IM","y":-0.65,"w":0.07},{"r":"d","c":2,"m":"IM","y":-0.8,"w":0.02},{"r":"d","c":2,"m":"IM","y":-1.05,"w":0},
{"r":"d","c":2,"m":"FEM","y":1.1,"w":0},{"r":"d","c":2,"m":"FEM","y":0.8,"w":0.02},{"r":"d","c":2,"m":"FEM","y":0.65,"w":0.07},{"r":"d","c":2,"m":"FEM","y":0.5,"w":0.17},{"r":"d","c":2,"m":"FEM","y":0.3,"w":0.33},{"r":"d","c":2,"m":"FEM","y":0.15,"w":0.43},{"r":"d","c":2,"m":"FEM","y":0,"w":0.47},{"r":"d","c":2,"m":"FEM","y":-0.15,"w":0.43},{"r":"d","c":2,"m":"FEM","y":-0.3,"w":0.33},{"r":"d","c":2,"m":"FEM","y":-0.5,"w":0.17},{"r":"d","c":2,"m":"FEM","y":-0.65,"w":0.07},{"r":"d","c":2,"m":"FEM","y":-0.8,"w":0.02},{"r":"d","c":2,"m":"FEM","y":-1.05,"w":0},
{"r":"d","c":2,"m":"HT","y":0.9,"w":0},{"r":"d","c":2,"m":"HT","y":0.7,"w":0.03},{"r":"d","c":2,"m":"HT","y":0.55,"w":0.09},{"r":"d","c":2,"m":"HT","y":0.4,"w":0.2},{"r":"d","c":2,"m":"HT","y":0.25,"w":0.33},{"r":"d","c":2,"m":"HT","y":0.1,"w":0.43},{"r":"d","c":2,"m":"HT","y":0,"w":0.46},{"r":"d","c":2,"m":"HT","y":-0.1,"w":0.43},{"r":"d","c":2,"m":"HT","y":-0.25,"w":0.33},{"r":"d","c":2,"m":"HT","y":-0.4,"w":0.2},{"r":"d","c":2,"m":"HT","y":-0.55,"w":0.09},{"r":"d","c":2,"m":"HT","y":-0.7,"w":0.03},{"r":"d","c":2,"m":"HT","y":-0.92,"w":0},

{"r":"d","c":3,"m":"HA","y":1.58,"w":0},{"r":"d","c":3,"m":"HA","y":1.3,"w":0.02},{"r":"d","c":3,"m":"HA","y":1.1,"w":0.05},{"r":"d","c":3,"m":"HA","y":0.9,"w":0.12},{"r":"d","c":3,"m":"HA","y":0.6,"w":0.25},{"r":"d","c":3,"m":"HA","y":0.3,"w":0.38},{"r":"d","c":3,"m":"HA","y":0,"w":0.47},{"r":"d","c":3,"m":"HA","y":-0.3,"w":0.38},{"r":"d","c":3,"m":"HA","y":-0.6,"w":0.26},{"r":"d","c":3,"m":"HA","y":-0.9,"w":0.15},{"r":"d","c":3,"m":"HA","y":-1.2,"w":0.05},{"r":"d","c":3,"m":"HA","y":-1.4,"w":0.02},{"r":"d","c":3,"m":"HA","y":-1.7,"w":0},
{"r":"d","c":3,"m":"IM","y":1.58,"w":0},{"r":"d","c":3,"m":"IM","y":1.3,"w":0.02},{"r":"d","c":3,"m":"IM","y":1.1,"w":0.05},{"r":"d","c":3,"m":"IM","y":0.9,"w":0.12},{"r":"d","c":3,"m":"IM","y":0.6,"w":0.25},{"r":"d","c":3,"m":"IM","y":0.3,"w":0.38},{"r":"d","c":3,"m":"IM","y":0,"w":0.47},{"r":"d","c":3,"m":"IM","y":-0.3,"w":0.38},{"r":"d","c":3,"m":"IM","y":-0.6,"w":0.26},{"r":"d","c":3,"m":"IM","y":-0.9,"w":0.15},{"r":"d","c":3,"m":"IM","y":-1.2,"w":0.05},{"r":"d","c":3,"m":"IM","y":-1.4,"w":0.02},{"r":"d","c":3,"m":"IM","y":-1.7,"w":0},
{"r":"d","c":3,"m":"FEM","y":1.56,"w":0},{"r":"d","c":3,"m":"FEM","y":1.3,"w":0.02},{"r":"d","c":3,"m":"FEM","y":1.1,"w":0.05},{"r":"d","c":3,"m":"FEM","y":0.9,"w":0.12},{"r":"d","c":3,"m":"FEM","y":0.6,"w":0.25},{"r":"d","c":3,"m":"FEM","y":0.3,"w":0.38},{"r":"d","c":3,"m":"FEM","y":0,"w":0.47},{"r":"d","c":3,"m":"FEM","y":-0.3,"w":0.38},{"r":"d","c":3,"m":"FEM","y":-0.6,"w":0.26},{"r":"d","c":3,"m":"FEM","y":-0.9,"w":0.15},{"r":"d","c":3,"m":"FEM","y":-1.2,"w":0.05},{"r":"d","c":3,"m":"FEM","y":-1.4,"w":0.02},{"r":"d","c":3,"m":"FEM","y":-1.7,"w":0},
{"r":"d","c":3,"m":"HT","y":2.59,"w":0},{"r":"d","c":3,"m":"HT","y":2.3,"w":0.02},{"r":"d","c":3,"m":"HT","y":2.0,"w":0.05},{"r":"d","c":3,"m":"HT","y":1.6,"w":0.12},{"r":"d","c":3,"m":"HT","y":1.2,"w":0.22},{"r":"d","c":3,"m":"HT","y":0.8,"w":0.32},{"r":"d","c":3,"m":"HT","y":0.4,"w":0.4},{"r":"d","c":3,"m":"HT","y":0,"w":0.44},{"r":"d","c":3,"m":"HT","y":-0.4,"w":0.38},{"r":"d","c":3,"m":"HT","y":-0.8,"w":0.28},{"r":"d","c":3,"m":"HT","y":-1.2,"w":0.16},{"r":"d","c":3,"m":"HT","y":-1.6,"w":0.07},{"r":"d","c":3,"m":"HT","y":-2.0,"w":0.03},{"r":"d","c":3,"m":"HT","y":-2.3,"w":0.01},{"r":"d","c":3,"m":"HT","y":-2.6,"w":0},

{"r":"d","c":4,"m":"HA","y":1.0,"w":0},{"r":"d","c":4,"m":"HA","y":0.8,"w":0.02},{"r":"d","c":4,"m":"HA","y":0.65,"w":0.06},{"r":"d","c":4,"m":"HA","y":0.5,"w":0.15},{"r":"d","c":4,"m":"HA","y":0.3,"w":0.3},{"r":"d","c":4,"m":"HA","y":0.15,"w":0.41},{"r":"d","c":4,"m":"HA","y":0,"w":0.47},{"r":"d","c":4,"m":"HA","y":-0.15,"w":0.41},{"r":"d","c":4,"m":"HA","y":-0.3,"w":0.3},{"r":"d","c":4,"m":"HA","y":-0.5,"w":0.15},{"r":"d","c":4,"m":"HA","y":-0.65,"w":0.06},{"r":"d","c":4,"m":"HA","y":-0.8,"w":0.02},{"r":"d","c":4,"m":"HA","y":-0.95,"w":0},
{"r":"d","c":4,"m":"IM","y":0.97,"w":0},{"r":"d","c":4,"m":"IM","y":0.8,"w":0.02},{"r":"d","c":4,"m":"IM","y":0.65,"w":0.06},{"r":"d","c":4,"m":"IM","y":0.5,"w":0.15},{"r":"d","c":4,"m":"IM","y":0.3,"w":0.3},{"r":"d","c":4,"m":"IM","y":0.15,"w":0.41},{"r":"d","c":4,"m":"IM","y":0,"w":0.47},{"r":"d","c":4,"m":"IM","y":-0.15,"w":0.41},{"r":"d","c":4,"m":"IM","y":-0.3,"w":0.3},{"r":"d","c":4,"m":"IM","y":-0.5,"w":0.15},{"r":"d","c":4,"m":"IM","y":-0.65,"w":0.06},{"r":"d","c":4,"m":"IM","y":-0.8,"w":0.02},{"r":"d","c":4,"m":"IM","y":-0.95,"w":0},
{"r":"d","c":4,"m":"FEM","y":0.97,"w":0},{"r":"d","c":4,"m":"FEM","y":0.8,"w":0.02},{"r":"d","c":4,"m":"FEM","y":0.65,"w":0.06},{"r":"d","c":4,"m":"FEM","y":0.5,"w":0.15},{"r":"d","c":4,"m":"FEM","y":0.3,"w":0.3},{"r":"d","c":4,"m":"FEM","y":0.15,"w":0.41},{"r":"d","c":4,"m":"FEM","y":0,"w":0.47},{"r":"d","c":4,"m":"FEM","y":-0.15,"w":0.41},{"r":"d","c":4,"m":"FEM","y":-0.3,"w":0.3},{"r":"d","c":4,"m":"FEM","y":-0.5,"w":0.15},{"r":"d","c":4,"m":"FEM","y":-0.65,"w":0.06},{"r":"d","c":4,"m":"FEM","y":-0.8,"w":0.02},{"r":"d","c":4,"m":"FEM","y":-0.95,"w":0},
{"r":"d","c":4,"m":"HT","y":1.53,"w":0},{"r":"d","c":4,"m":"HT","y":1.2,"w":0.03},{"r":"d","c":4,"m":"HT","y":1.0,"w":0.08},{"r":"d","c":4,"m":"HT","y":0.8,"w":0.15},{"r":"d","c":4,"m":"HT","y":0.5,"w":0.22},{"r":"d","c":4,"m":"HT","y":0.2,"w":0.26},{"r":"d","c":4,"m":"HT","y":0,"w":0.26},{"r":"d","c":4,"m":"HT","y":-0.3,"w":0.24},{"r":"d","c":4,"m":"HT","y":-0.6,"w":0.15},{"r":"d","c":4,"m":"HT","y":-0.9,"w":0.06},{"r":"d","c":4,"m":"HT","y":-1.2,"w":0.02},{"r":"d","c":4,"m":"HT","y":-1.48,"w":0}
]},
"vconcat": [
{
 "data": {"name": "v"},
 "transform": [{"filter": "datum.r === 'a'"}, {"calculate": "indexof(['HA','IM','FEM','HT'], datum.m) + 1", "as": "k"}, {"calculate": "datum.k - datum.w", "as": "lo"}, {"calculate": "datum.k + datum.w", "as": "hi"}],
 "facet": {
  "row": {"field": "r", "type": "nominal", "header": {"title": null, "labelOrient": "left", "labelAngle": 0, "labelAnchor": "end", "labelAlign": "left", "labelBaseline": "alphabetic", "labelFontSize": 23, "labelPadding": 2}},
  "column": {"field": "c", "type": "ordinal", "header": {"title": null, "labelFontSize": 22.3, "labelLineHeight": 23.5, "labelPadding": 33, "labelExpr": "datum.value == 1 ? ['Size-Matched in Strata','with Correlated Effects'] : datum.value == 2 ? ['Size-Matched in Strata','with Constant Effects'] : datum.value == 3 ? ['Uequal Sizes in Strata','with Correlated Effects'] : ['Uequal Sizes in Strata','with Constant Effects']"}}
 },
 "spacing": {"column": 29},
 "resolve": {"axis": {"y": "independent"}},
 "spec": {
  "width": 214, "height": 137,
  "layer": [
   {"mark": {"type": "area", "orient": "horizontal", "fill": "white", "stroke": "#333333", "strokeWidth": 1.6, "interpolate": "monotone", "strokeJoin": "round"},
    "encoding": {
     "x": {"field": "lo", "type": "quantitative", "title": null, "scale": {"domain": [0.4, 4.6], "nice": false, "zero": false}, "axis": {"values": [1,2,3,4], "tickCount": 50, "labelOverlap": false, "labelExpr": "['','HA','IM','FEM','HT'][datum.value]", "gridWidth": 1.4}},
     "x2": {"field": "hi"},
     "y": {"field": "y", "type": "quantitative", "title": "τ̂ − τ", "scale": {"domain": [-2.25, 2.25], "nice": false, "zero": false}, "axis": {"values": [-2,-1.5,-1,-0.5,0,0.5,1,1.5,2], "tickCount": 50, "labelOverlap": false, "labelExpr": "datum.value % 1 === 0 ? toString(datum.value) : ''", "gridWidth": {"condition": {"test": "datum.value % 1 === 0", "value": 1.4}, "value": 0.7}, "tickOpacity": {"condition": {"test": "datum.value % 1 === 0", "value": 1}, "value": 0}, "titlePadding": 20}},
     "detail": {"field": "m"}
    }},
   {"transform": [{"aggregate": [{"op": "count", "as": "n"}], "groupby": ["r", "c"]}],
    "mark": {"type": "rule", "color": "#9E9E9E", "strokeWidth": 2.2, "strokeDash": [12, 13]},
    "encoding": {"y": {"datum": 0}}}
  ]
 }
},
{
 "data": {"name": "v"},
 "transform": [{"filter": "datum.r === 'b'"}, {"calculate": "indexof(['HA','IM','FEM','HT'], datum.m) + 1", "as": "k"}, {"calculate": "datum.k - datum.w", "as": "lo"}, {"calculate": "datum.k + datum.w", "as": "hi"}],
 "facet": {
  "row": {"field": "r", "type": "nominal", "header": {"title": null, "labelOrient": "left", "labelAngle": 0, "labelAnchor": "end", "labelAlign": "left", "labelBaseline": "alphabetic", "labelFontSize": 23, "labelPadding": 2}},
  "column": {"field": "c", "type": "ordinal", "header": {"title": null, "labels": false}}
 },
 "spacing": {"column": 29},
 "resolve": {"axis": {"y": "independent"}},
 "spec": {
  "width": 214, "height": 137,
  "layer": [
   {"mark": {"type": "area", "orient": "horizontal", "fill": "white", "stroke": "#333333", "strokeWidth": 1.6, "interpolate": "monotone", "strokeJoin": "round"},
    "encoding": {
     "x": {"field": "lo", "type": "quantitative", "title": null, "scale": {"domain": [0.4, 4.6], "nice": false, "zero": false}, "axis": {"values": [1,2,3,4], "tickCount": 50, "labelOverlap": false, "labelExpr": "['','HA','IM','FEM','HT'][datum.value]", "gridWidth": 1.4}},
     "x2": {"field": "hi"},
     "y": {"field": "y", "type": "quantitative", "title": "τ̂ − τ", "scale": {"domain": [-2.35, 2.35], "nice": false, "zero": false}, "axis": {"values": [-2,-1.5,-1,-0.5,0,0.5,1,1.5,2], "tickCount": 50, "labelOverlap": false, "labelExpr": "datum.value % 1 === 0 ? toString(datum.value) : ''", "gridWidth": {"condition": {"test": "datum.value % 1 === 0", "value": 1.4}, "value": 0.7}, "tickOpacity": {"condition": {"test": "datum.value % 1 === 0", "value": 1}, "value": 0}, "titlePadding": 20}},
     "detail": {"field": "m"}
    }},
   {"transform": [{"aggregate": [{"op": "count", "as": "n"}], "groupby": ["r", "c"]}],
    "mark": {"type": "rule", "color": "#9E9E9E", "strokeWidth": 2.2, "strokeDash": [12, 13]},
    "encoding": {"y": {"datum": 0}}}
  ]
 }
},
{
 "data": {"name": "v"},
 "transform": [{"filter": "datum.r === 'c'"}, {"calculate": "indexof(['HA','IM','FEM','HT'], datum.m) + 1", "as": "k"}, {"calculate": "datum.k - datum.w", "as": "lo"}, {"calculate": "datum.k + datum.w", "as": "hi"}],
 "facet": {
  "row": {"field": "r", "type": "nominal", "header": {"title": null, "labelOrient": "left", "labelAngle": 0, "labelAnchor": "end", "labelAlign": "left", "labelBaseline": "alphabetic", "labelFontSize": 23, "labelPadding": 2}},
  "column": {"field": "c", "type": "ordinal", "header": {"title": null, "labels": false}}
 },
 "spacing": {"column": 29},
 "resolve": {"axis": {"y": "independent"}},
 "spec": {
  "width": 214, "height": 137,
  "layer": [
   {"mark": {"type": "area", "orient": "horizontal", "fill": "white", "stroke": "#333333", "strokeWidth": 1.6, "interpolate": "monotone", "strokeJoin": "round"},
    "encoding": {
     "x": {"field": "lo", "type": "quantitative", "title": null, "scale": {"domain": [0.4, 4.6], "nice": false, "zero": false}, "axis": {"values": [1,2,3,4], "tickCount": 50, "labelOverlap": false, "labelExpr": "['','HA','IM','FEM','HT'][datum.value]", "gridWidth": 1.4}},
     "x2": {"field": "hi"},
     "y": {"field": "y", "type": "quantitative", "title": "τ̂ − τ", "scale": {"domain": [-4.35, 4.35], "nice": false, "zero": false}, "axis": {"values": [-4,-3,-2,-1,0,1,2,3,4], "tickCount": 50, "labelOverlap": false, "labelExpr": "datum.value % 2 === 0 ? toString(datum.value) : ''", "gridWidth": {"condition": {"test": "datum.value % 2 === 0", "value": 1.4}, "value": 0.7}, "tickOpacity": {"condition": {"test": "datum.value % 2 === 0", "value": 1}, "value": 0}, "titlePadding": 20}},
     "detail": {"field": "m"}
    }},
   {"transform": [{"aggregate": [{"op": "count", "as": "n"}], "groupby": ["r", "c"]}],
    "mark": {"type": "rule", "color": "#9E9E9E", "strokeWidth": 2.2, "strokeDash": [12, 13]},
    "encoding": {"y": {"datum": 0}}}
  ]
 }
},
{
 "data": {"name": "v"},
 "transform": [{"filter": "datum.r === 'd'"}, {"calculate": "indexof(['HA','IM','FEM','HT'], datum.m) + 1", "as": "k"}, {"calculate": "datum.k - datum.w", "as": "lo"}, {"calculate": "datum.k + datum.w", "as": "hi"}],
 "facet": {
  "row": {"field": "r", "type": "nominal", "header": {"title": null, "labelOrient": "left", "labelAngle": 0, "labelAnchor": "end", "labelAlign": "left", "labelBaseline": "alphabetic", "labelFontSize": 23, "labelPadding": 2}},
  "column": {"field": "c", "type": "ordinal", "header": {"title": null, "labels": false}}
 },
 "spacing": {"column": 29},
 "resolve": {"axis": {"y": "independent"}},
 "spec": {
  "width": 214, "height": 137,
  "layer": [
   {"mark": {"type": "area", "orient": "horizontal", "fill": "white", "stroke": "#333333", "strokeWidth": 1.6, "interpolate": "monotone", "strokeJoin": "round"},
    "encoding": {
     "x": {"field": "lo", "type": "quantitative", "title": null, "scale": {"domain": [0.4, 4.6], "nice": false, "zero": false}, "axis": {"values": [1,2,3,4], "tickCount": 50, "labelOverlap": false, "labelExpr": "['','HA','IM','FEM','HT'][datum.value]", "gridWidth": 1.4}},
     "x2": {"field": "hi"},
     "y": {"field": "y", "type": "quantitative", "title": "τ̂ − τ", "scale": {"domain": [-2.8, 2.8], "nice": false, "zero": false}, "axis": {"values": [-2.5,-2,-1.5,-1,-0.5,0,0.5,1,1.5,2,2.5], "tickCount": 50, "labelOverlap": false, "labelExpr": "datum.value % 1 === 0 ? toString(datum.value) : ''", "gridWidth": {"condition": {"test": "datum.value % 1 === 0", "value": 1.4}, "value": 0.7}, "tickOpacity": {"condition": {"test": "datum.value % 1 === 0", "value": 1}, "value": 0}, "titlePadding": 20}},
     "detail": {"field": "m"}
    }},
   {"transform": [{"aggregate": [{"op": "count", "as": "n"}], "groupby": ["r", "c"]}],
    "mark": {"type": "rule", "color": "#9E9E9E", "strokeWidth": 2.2, "strokeDash": [12, 13]},
    "encoding": {"y": {"datum": 0}}}
  ]
 }
}
]
}
